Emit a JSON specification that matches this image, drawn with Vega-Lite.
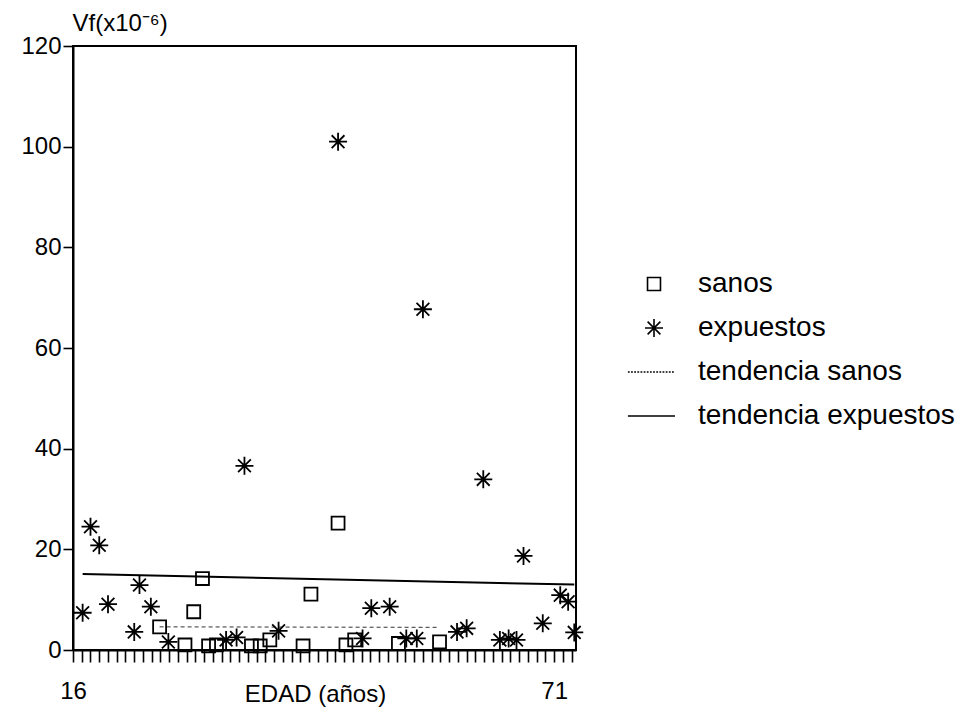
{
  "$schema": "https://vega.github.io/schema/vega-lite/v6.json",
  "width": 503,
  "height": 604,
  "autosize": {"type": "none"},
  "padding": {"left": 73, "top": 46, "right": 389, "bottom": 62},
  "background": "white",
  "config": {
    "view": {"stroke": "black", "strokeWidth": 2},
    "axis": {"grid": false, "domainColor": "black", "domainWidth": 2, "tickColor": "black", "labelColor": "black", "titleColor": "black", "labelFont": "Liberation Sans", "titleFont": "Liberation Sans", "labelFontSize": 24, "titleFontSize": 24, "titleFontWeight": "normal"},
    "legend": {"labelFont": "Liberation Sans", "labelFontSize": 28, "labelColor": "black"}
  },
  "datasets": {
    "puntos": [
      {"edad": 25.9, "vf": 4.6, "serie": "sanos"},
      {"edad": 28.8, "vf": 1.0, "serie": "sanos"},
      {"edad": 29.8, "vf": 7.6, "serie": "sanos"},
      {"edad": 30.8, "vf": 14.2, "serie": "sanos"},
      {"edad": 31.5, "vf": 0.8, "serie": "sanos"},
      {"edad": 32.4, "vf": 1.0, "serie": "sanos"},
      {"edad": 36.4, "vf": 0.8, "serie": "sanos"},
      {"edad": 37.4, "vf": 0.8, "serie": "sanos"},
      {"edad": 38.5, "vf": 2.0, "serie": "sanos"},
      {"edad": 42.3, "vf": 0.8, "serie": "sanos"},
      {"edad": 43.2, "vf": 11.1, "serie": "sanos"},
      {"edad": 46.3, "vf": 25.2, "serie": "sanos"},
      {"edad": 47.2, "vf": 1.0, "serie": "sanos"},
      {"edad": 48.2, "vf": 2.0, "serie": "sanos"},
      {"edad": 53.2, "vf": 1.3, "serie": "sanos"},
      {"edad": 57.9, "vf": 1.6, "serie": "sanos"},
      {"edad": 17.1, "vf": 7.4, "serie": "expuestos"},
      {"edad": 18.0, "vf": 24.5, "serie": "expuestos"},
      {"edad": 19.0, "vf": 20.8, "serie": "expuestos"},
      {"edad": 20.0, "vf": 9.1, "serie": "expuestos"},
      {"edad": 23.0, "vf": 3.6, "serie": "expuestos"},
      {"edad": 23.6, "vf": 12.9, "serie": "expuestos"},
      {"edad": 24.9, "vf": 8.6, "serie": "expuestos"},
      {"edad": 26.9, "vf": 1.6, "serie": "expuestos"},
      {"edad": 33.5, "vf": 2.0, "serie": "expuestos"},
      {"edad": 34.7, "vf": 2.5, "serie": "expuestos"},
      {"edad": 35.6, "vf": 36.6, "serie": "expuestos"},
      {"edad": 39.5, "vf": 3.8, "serie": "expuestos"},
      {"edad": 46.3, "vf": 101.0, "serie": "expuestos"},
      {"edad": 49.1, "vf": 2.3, "serie": "expuestos"},
      {"edad": 50.1, "vf": 8.3, "serie": "expuestos"},
      {"edad": 52.2, "vf": 8.6, "serie": "expuestos"},
      {"edad": 54.1, "vf": 2.3, "serie": "expuestos"},
      {"edad": 55.3, "vf": 2.3, "serie": "expuestos"},
      {"edad": 56.0, "vf": 67.7, "serie": "expuestos"},
      {"edad": 59.9, "vf": 3.6, "serie": "expuestos"},
      {"edad": 61.0, "vf": 4.3, "serie": "expuestos"},
      {"edad": 62.9, "vf": 33.9, "serie": "expuestos"},
      {"edad": 64.8, "vf": 2.0, "serie": "expuestos"},
      {"edad": 65.8, "vf": 2.3, "serie": "expuestos"},
      {"edad": 66.7, "vf": 2.0, "serie": "expuestos"},
      {"edad": 67.5, "vf": 18.7, "serie": "expuestos"},
      {"edad": 69.7, "vf": 5.3, "serie": "expuestos"},
      {"edad": 71.7, "vf": 10.9, "serie": "expuestos"},
      {"edad": 72.6, "vf": 9.6, "serie": "expuestos"},
      {"edad": 73.3, "vf": 3.5, "serie": "expuestos"}
    ],
    "tendencias": [
      {"edad": 17.1, "vf": 15.1, "serie": "tendencia expuestos"},
      {"edad": 73.3, "vf": 13.0, "serie": "tendencia expuestos"},
      {"edad": 25.9, "vf": 4.6, "serie": "tendencia sanos"},
      {"edad": 57.9, "vf": 4.5, "serie": "tendencia sanos"}
    ]
  },
  "layer": [
    {
      "data": {"name": "tendencias"},
      "transform": [{"filter": "datum.serie == 'tendencia expuestos'"}],
      "mark": {"type": "line", "color": "black", "strokeWidth": 2},
      "encoding": {
        "x": {"field": "edad", "type": "quantitative", "scale": {"domain": [16, 73.5], "nice": false, "zero": false},
          "axis": {
            "values": [16,17,18,19,20,21,22,23,24,25,26,27,28,29,30,31,32,33,34,35,36,37,38,39,40,41,42,43,44,45,46,47,48,49,50,51,52,53,54,55,56,57,58,59,60,61,62,63,64,65,66,67,68,69,70,71,72,73],
            "tickCount": 100,
            "format": "d",
            "labelExpr": "datum.value == 16 || datum.value == 71 ? datum.label : ''",
            "labelOverlap": false, "labelFlush": false,
            "tickSize": 12, "tickWidth": 1.6, "labelPadding": 17,
            "title": "EDAD (años)", "titleX": 242, "titleY": 44, "titleBaseline": "middle"
          }},
        "y": {"field": "vf", "type": "quantitative", "scale": {"domain": [0, 120], "nice": false},
          "axis": {
            "values": [0, 20, 40, 60, 80, 100, 120],
            "tickSize": 10, "tickWidth": 1.6, "labelPadding": 2,
            "title": "Vf(x10⁻⁶)", "titleAngle": 0, "titleAlign": "left", "titleBaseline": "alphabetic", "titleX": -1, "titleY": -16
          }}
      }
    },
    {
      "data": {"name": "tendencias"},
      "transform": [{"filter": "datum.serie == 'tendencia sanos'"}],
      "mark": {"type": "line", "color": "black", "strokeWidth": 1, "strokeDash": [4, 3], "opacity": 0.8},
      "encoding": {
        "x": {"field": "edad", "type": "quantitative"},
        "y": {"field": "vf", "type": "quantitative"}
      }
    },
    {
      "data": {"name": "puntos"},
      "mark": {"type": "point", "filled": false, "stroke": "black", "strokeWidth": 1.8, "size": 324, "opacity": 1},
      "encoding": {
        "x": {"field": "edad", "type": "quantitative"},
        "y": {"field": "vf", "type": "quantitative"},
        "shape": {
          "field": "serie", "type": "nominal",
          "scale": {
            "domain": ["sanos", "expuestos", "tendencia sanos", "tendencia expuestos"],
            "range": [
              "M-0.72,-0.72H0.72V0.72H-0.72Z",
              "M0,-1V1M-1,0H1M-0.71,-0.71L0.71,0.71M-0.71,0.71L0.71,-0.71",
              "M-2.9,0H-2.7M-2.55,0H-2.35M-2.2,0H-2M-1.85,0H-1.65M-1.5,0H-1.3M-1.15,0H-0.95M-0.8,0H-0.6M-0.45,0H-0.25M-0.1,0H0.1M0.25,0H0.45M0.6,0H0.8M0.95,0H1.15M1.3,0H1.5M1.65,0H1.85M2,0H2.2",
              "M-2.9,0H2.33"
            ]
          },
          "legend": {
            "title": null, "orient": "none", "legendX": 567, "legendY": 224, "padding": 0,
            "symbolSize": 324, "symbolFillColor": "transparent", "symbolStrokeColor": "black", "symbolStrokeWidth": 1.6,
            "labelOffset": 30, "rowPadding": 16, "labelBaseline": "middle", "labelLimit": 400
          }
        }
      }
    }
  ]
}
